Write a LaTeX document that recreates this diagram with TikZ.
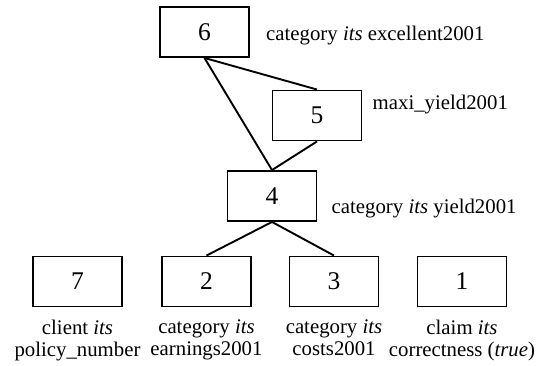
\documentclass[tikz,border=0pt]{standalone}
\usepackage{fontspec}
\setmainfont{Liberation Serif}
\begin{document}
\begin{tikzpicture}[x=1pt,y=-1pt,
  every node/.style={font=\fontsize{20.8}{21.7}\selectfont},
  numbox/.style={draw,line width=1.9pt,minimum width=89pt,minimum height=50pt,inner sep=0pt,
    font=\fontsize{25.5}{26}\selectfont},
  sidelabel/.style={anchor=base west,inner sep=0pt},
  underlabel/.style={anchor=north,align=center,inner sep=0pt},
  link/.style={line width=1.9pt}]
\useasboundingbox (0,0) rectangle (552,366);

% hierarchy boxes
\node[numbox] (n6) at (204.5,32) {6};
\node[numbox] (n5) at (317,115.5) {5};
\node[numbox] (n4) at (272,196) {4};
\node[numbox] (n7) at (77.5,281.5) {7};
\node[numbox] (n2) at (206.5,281.5) {2};
\node[numbox] (n3) at (334,281.5) {3};
\node[numbox] (n1) at (462,281.5) {1};

% labels beside the upper boxes
\node[sidelabel] (l6) at (266,40.5) {category \textit{its} excellent2001};
\node[sidelabel] (l5) at (372.5,110) {maxi\_yield2001};
\node[sidelabel] (l4) at (331.5,213.3) {category \textit{its} yield2001};

% labels under the bottom row
\node[underlabel] (l7) at (77.5,320) {client \textit{its}\\policy\_number};
\node[underlabel] (l2) at (206.5,320) {category \textit{its}\\earnings2001};
\node[underlabel] (l3) at (334,320) {category \textit{its}\\costs2001};
\node[underlabel] (l1) at (462,320) {claim \textit{its}\\correctness (\textit{true})};

% connectors
\draw[link] (n6.south) -- (n5.north);
\draw[link] (n6.south) -- (n4.north);
\draw[link] (n5.south) -- (n4.north);
\draw[link] (n4.south) -- (n2.north);
\draw[link] (n4.south) -- (n3.north);
\end{tikzpicture}
\end{document}
